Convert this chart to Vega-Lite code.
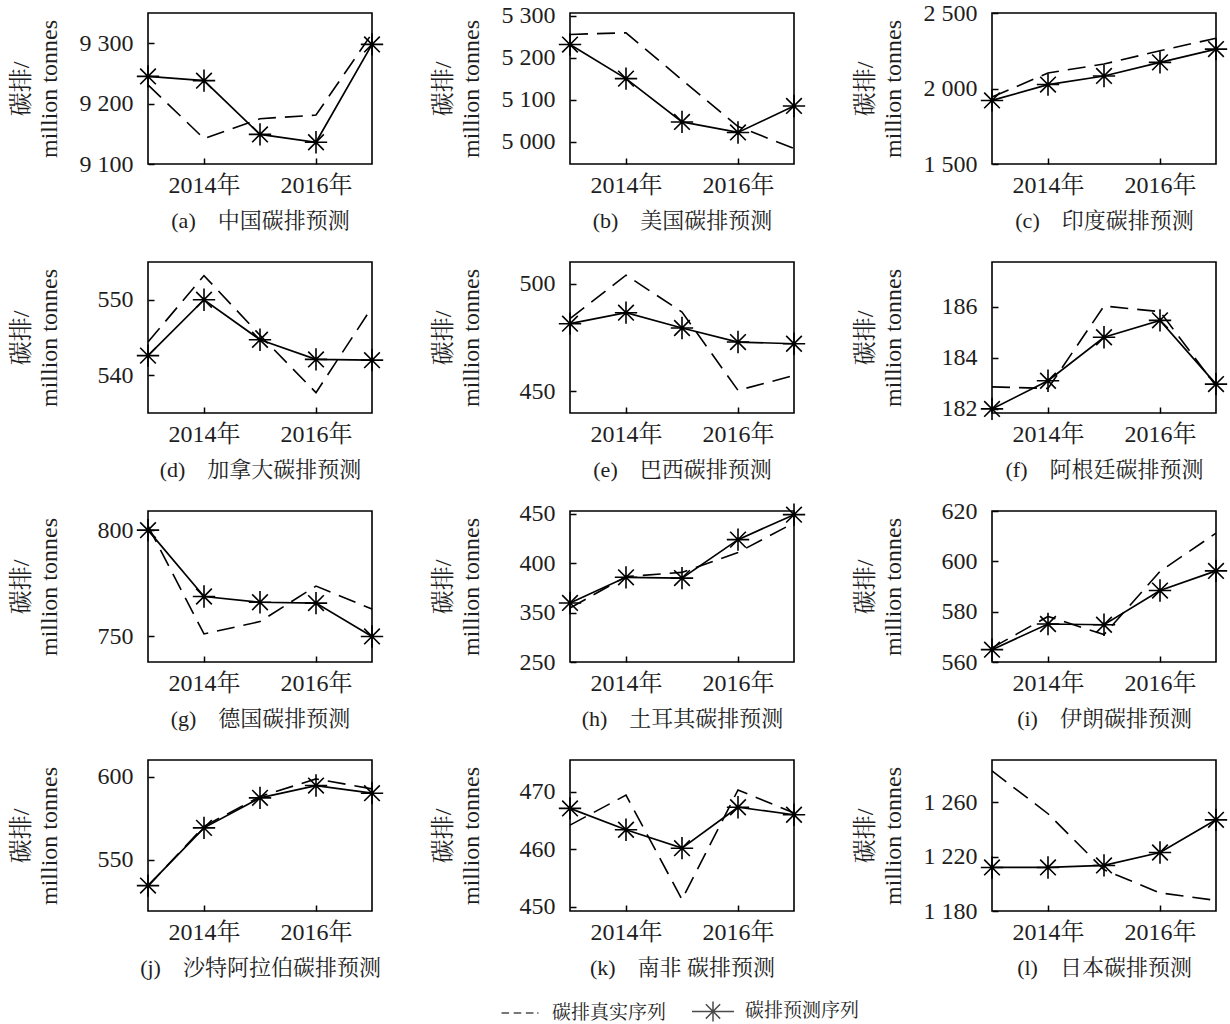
{
"$schema":"https://vega.github.io/schema/vega-lite/v6.json",
"padding":{"left":8,"top":0,"right":0,"bottom":0},
"data":{"values":[
{"c":"a","s":"r","x":2013,"v":9231},{"c":"a","s":"r","x":2014,"v":9142},{"c":"a","s":"r","x":2015,"v":9175},{"c":"a","s":"r","x":2016,"v":9181},{"c":"a","s":"r","x":2017,"v":9316},
{"c":"a","s":"p","x":2013,"v":9245},{"c":"a","s":"p","x":2014,"v":9238},{"c":"a","s":"p","x":2015,"v":9149},{"c":"a","s":"p","x":2016,"v":9136},{"c":"a","s":"p","x":2017,"v":9298},
{"c":"b","s":"r","x":2013,"v":5255},{"c":"b","s":"r","x":2014,"v":5259},{"c":"b","s":"r","x":2015,"v":5147},{"c":"b","s":"r","x":2016,"v":5036},{"c":"b","s":"r","x":2017,"v":4984},
{"c":"b","s":"p","x":2013,"v":5231},{"c":"b","s":"p","x":2014,"v":5150},{"c":"b","s":"p","x":2015,"v":5047},{"c":"b","s":"p","x":2016,"v":5022},{"c":"b","s":"p","x":2017,"v":5085},
{"c":"c","s":"r","x":2013,"v":1943},{"c":"c","s":"r","x":2014,"v":2103},{"c":"c","s":"r","x":2015,"v":2162},{"c":"c","s":"r","x":2016,"v":2250},{"c":"c","s":"r","x":2017,"v":2333},
{"c":"c","s":"p","x":2013,"v":1921},{"c":"c","s":"p","x":2014,"v":2026},{"c":"c","s":"p","x":2015,"v":2083},{"c":"c","s":"p","x":2016,"v":2173},{"c":"c","s":"p","x":2017,"v":2261},
{"c":"d","s":"r","x":2013,"v":544.4},{"c":"d","s":"r","x":2014,"v":553.2},{"c":"d","s":"r","x":2015,"v":545.3},{"c":"d","s":"r","x":2016,"v":537.7},{"c":"d","s":"r","x":2017,"v":549},
{"c":"d","s":"p","x":2013,"v":542.6},{"c":"d","s":"p","x":2014,"v":550},{"c":"d","s":"p","x":2015,"v":544.7},{"c":"d","s":"p","x":2016,"v":542.1},{"c":"d","s":"p","x":2017,"v":542.0},
{"c":"e","s":"r","x":2013,"v":483.7},{"c":"e","s":"r","x":2014,"v":503.9},{"c":"e","s":"r","x":2015,"v":486.8},{"c":"e","s":"r","x":2016,"v":450.5},{"c":"e","s":"r","x":2017,"v":457.4},
{"c":"e","s":"p","x":2013,"v":481.4},{"c":"e","s":"p","x":2014,"v":486.5},{"c":"e","s":"p","x":2015,"v":479.4},{"c":"e","s":"p","x":2016,"v":472.9},{"c":"e","s":"p","x":2017,"v":472.1},
{"c":"f","s":"r","x":2013,"v":182.86},{"c":"f","s":"r","x":2014,"v":182.8},{"c":"f","s":"r","x":2015,"v":186.02},{"c":"f","s":"r","x":2016,"v":185.8},{"c":"f","s":"r","x":2017,"v":182.9},
{"c":"f","s":"p","x":2013,"v":182.0},{"c":"f","s":"p","x":2014,"v":183.1},{"c":"f","s":"p","x":2015,"v":184.8},{"c":"f","s":"p","x":2016,"v":185.46},{"c":"f","s":"p","x":2017,"v":182.97},
{"c":"g","s":"r","x":2013,"v":802},{"c":"g","s":"r","x":2014,"v":751.2},{"c":"g","s":"r","x":2015,"v":757},{"c":"g","s":"r","x":2016,"v":773.7},{"c":"g","s":"r","x":2017,"v":762.9},
{"c":"g","s":"p","x":2013,"v":800},{"c":"g","s":"p","x":2014,"v":768.8},{"c":"g","s":"p","x":2015,"v":766.1},{"c":"g","s":"p","x":2016,"v":765.7},{"c":"g","s":"p","x":2017,"v":750},
{"c":"h","s":"r","x":2013,"v":354.7},{"c":"h","s":"r","x":2014,"v":386.5},{"c":"h","s":"r","x":2015,"v":390.8},{"c":"h","s":"r","x":2016,"v":411},{"c":"h","s":"r","x":2017,"v":441},
{"c":"h","s":"p","x":2013,"v":359.8},{"c":"h","s":"p","x":2014,"v":385.8},{"c":"h","s":"p","x":2015,"v":385},{"c":"h","s":"p","x":2016,"v":424},{"c":"h","s":"p","x":2017,"v":449.3},
{"c":"i","s":"r","x":2013,"v":565.6},{"c":"i","s":"r","x":2014,"v":578.1},{"c":"i","s":"r","x":2015,"v":570.9},{"c":"i","s":"r","x":2016,"v":596},{"c":"i","s":"r","x":2017,"v":611.2},
{"c":"i","s":"p","x":2013,"v":564.9},{"c":"i","s":"p","x":2014,"v":575.1},{"c":"i","s":"p","x":2015,"v":574.8},{"c":"i","s":"p","x":2016,"v":588.4},{"c":"i","s":"p","x":2017,"v":596.2},
{"c":"j","s":"r","x":2013,"v":534},{"c":"j","s":"r","x":2014,"v":570},{"c":"j","s":"r","x":2015,"v":588},{"c":"j","s":"r","x":2016,"v":598.6},{"c":"j","s":"r","x":2017,"v":592.6},
{"c":"j","s":"p","x":2013,"v":534.3},{"c":"j","s":"p","x":2014,"v":569.1},{"c":"j","s":"p","x":2015,"v":587.2},{"c":"j","s":"p","x":2016,"v":594.6},{"c":"j","s":"p","x":2017,"v":590},
{"c":"k","s":"r","x":2013,"v":464.2},{"c":"k","s":"r","x":2014,"v":469.4},{"c":"k","s":"r","x":2015,"v":451.3},{"c":"k","s":"r","x":2016,"v":470.3},{"c":"k","s":"r","x":2017,"v":466.3},
{"c":"k","s":"p","x":2013,"v":467.1},{"c":"k","s":"p","x":2014,"v":463.4},{"c":"k","s":"p","x":2015,"v":460.2},{"c":"k","s":"p","x":2016,"v":467.3},{"c":"k","s":"p","x":2017,"v":466},
{"c":"l","s":"r","x":2013,"v":1283},{"c":"l","s":"r","x":2014,"v":1251.5},{"c":"l","s":"r","x":2015,"v":1210.3},{"c":"l","s":"r","x":2016,"v":1193.3},{"c":"l","s":"r","x":2017,"v":1187.8},
{"c":"l","s":"p","x":2013,"v":1212},{"c":"l","s":"p","x":2014,"v":1212},{"c":"l","s":"p","x":2015,"v":1213.5},{"c":"l","s":"p","x":2016,"v":1223},{"c":"l","s":"p","x":2017,"v":1247}
]},
"columns":3,
"spacing":{"column":198,"row":98},
"bounds":"flush",
"resolve":{"scale":{"shape":"independent"}},
"concat":[
{"width":224,"height":151,"transform":[{"filter":"datum.c=='a'"}],
 "encoding":{"x":{"field":"x","type":"quantitative","scale":{"domain":[2013,2017]},"axis":{"values":[2014,2016],"labelExpr":"datum.value+'年'","title":"(a)\u3000中国碳排预测"}},
  "y":{"field":"v","type":"quantitative","scale":{"domain":[9100,9350],"nice":false,"zero":false},"axis":{"values":[9100,9200,9300],"labelExpr":"replace(format(datum.value,',d'),',',' ')","title":["碳排/","million tonnes"]}}},
 "layer":[
  {"transform":[{"filter":"datum.s=='r'"}],"mark":{"type":"line","color":"#000","strokeWidth":1.6,"strokeDash":[18,9]}},
  {"transform":[{"filter":"datum.s=='p'"}],"mark":{"type":"line","color":"#000","strokeWidth":1.7}},
  {"transform":[{"filter":"datum.s=='p'"}],"mark":{"type":"point","shape":"M-1,0H1M0,-1V1M-0.7,-0.7L0.7,0.7M-0.7,0.7L0.7,-0.7","size":500,"filled":false,"stroke":"#000","strokeWidth":1.6,"opacity":1}}
 ]},
{"width":224,"height":151,"transform":[{"filter":"datum.c=='b'"}],
 "encoding":{"x":{"field":"x","type":"quantitative","scale":{"domain":[2013,2017]},"axis":{"values":[2014,2016],"labelExpr":"datum.value+'年'","title":"(b)\u3000美国碳排预测"}},
  "y":{"field":"v","type":"quantitative","scale":{"domain":[4947,5306],"nice":false,"zero":false},"axis":{"values":[5000,5100,5200,5300],"labelExpr":"replace(format(datum.value,',d'),',',' ')","title":["碳排/","million tonnes"]}}},
 "layer":[
  {"transform":[{"filter":"datum.s=='r'"}],"mark":{"type":"line","color":"#000","strokeWidth":1.6,"strokeDash":[18,9]}},
  {"transform":[{"filter":"datum.s=='p'"}],"mark":{"type":"line","color":"#000","strokeWidth":1.7}},
  {"transform":[{"filter":"datum.s=='p'"}],"mark":{"type":"point","shape":"M-1,0H1M0,-1V1M-0.7,-0.7L0.7,0.7M-0.7,0.7L0.7,-0.7","size":500,"filled":false,"stroke":"#000","strokeWidth":1.6,"opacity":1}}
 ]},
{"width":224,"height":151,"transform":[{"filter":"datum.c=='c'"}],
 "encoding":{"x":{"field":"x","type":"quantitative","scale":{"domain":[2013,2017]},"axis":{"values":[2014,2016],"labelExpr":"datum.value+'年'","title":"(c)\u3000印度碳排预测"}},
  "y":{"field":"v","type":"quantitative","scale":{"domain":[1500,2500],"nice":false,"zero":false},"axis":{"values":[1500,2000,2500],"labelExpr":"replace(format(datum.value,',d'),',',' ')","title":["碳排/","million tonnes"]}}},
 "layer":[
  {"transform":[{"filter":"datum.s=='r'"}],"mark":{"type":"line","color":"#000","strokeWidth":1.6,"strokeDash":[18,9]}},
  {"transform":[{"filter":"datum.s=='p'"}],"mark":{"type":"line","color":"#000","strokeWidth":1.7}},
  {"transform":[{"filter":"datum.s=='p'"}],"mark":{"type":"point","shape":"M-1,0H1M0,-1V1M-0.7,-0.7L0.7,0.7M-0.7,0.7L0.7,-0.7","size":500,"filled":false,"stroke":"#000","strokeWidth":1.6,"opacity":1}}
 ]},
{"width":224,"height":151,"transform":[{"filter":"datum.c=='d'"}],
 "encoding":{"x":{"field":"x","type":"quantitative","scale":{"domain":[2013,2017]},"axis":{"values":[2014,2016],"labelExpr":"datum.value+'年'","title":"(d)\u3000加拿大碳排预测"}},
  "y":{"field":"v","type":"quantitative","scale":{"domain":[535,555],"nice":false,"zero":false},"axis":{"values":[540,550],"labelExpr":"replace(format(datum.value,',d'),',',' ')","title":["碳排/","million tonnes"]}}},
 "layer":[
  {"transform":[{"filter":"datum.s=='r'"}],"mark":{"type":"line","color":"#000","strokeWidth":1.6,"strokeDash":[18,9]}},
  {"transform":[{"filter":"datum.s=='p'"}],"mark":{"type":"line","color":"#000","strokeWidth":1.7}},
  {"transform":[{"filter":"datum.s=='p'"}],"mark":{"type":"point","shape":"M-1,0H1M0,-1V1M-0.7,-0.7L0.7,0.7M-0.7,0.7L0.7,-0.7","size":500,"filled":false,"stroke":"#000","strokeWidth":1.6,"opacity":1}}
 ]},
{"width":224,"height":151,"transform":[{"filter":"datum.c=='e'"}],
 "encoding":{"x":{"field":"x","type":"quantitative","scale":{"domain":[2013,2017]},"axis":{"values":[2014,2016],"labelExpr":"datum.value+'年'","title":"(e)\u3000巴西碳排预测"}},
  "y":{"field":"v","type":"quantitative","scale":{"domain":[440,510],"nice":false,"zero":false},"axis":{"values":[450,500],"labelExpr":"replace(format(datum.value,',d'),',',' ')","title":["碳排/","million tonnes"]}}},
 "layer":[
  {"transform":[{"filter":"datum.s=='r'"}],"mark":{"type":"line","color":"#000","strokeWidth":1.6,"strokeDash":[18,9]}},
  {"transform":[{"filter":"datum.s=='p'"}],"mark":{"type":"line","color":"#000","strokeWidth":1.7}},
  {"transform":[{"filter":"datum.s=='p'"}],"mark":{"type":"point","shape":"M-1,0H1M0,-1V1M-0.7,-0.7L0.7,0.7M-0.7,0.7L0.7,-0.7","size":500,"filled":false,"stroke":"#000","strokeWidth":1.6,"opacity":1}}
 ]},
{"width":224,"height":151,"transform":[{"filter":"datum.c=='f'"}],
 "encoding":{"x":{"field":"x","type":"quantitative","scale":{"domain":[2013,2017]},"axis":{"values":[2014,2016],"labelExpr":"datum.value+'年'","title":"(f)\u3000阿根廷碳排预测"}},
  "y":{"field":"v","type":"quantitative","scale":{"domain":[181.84,187.74],"nice":false,"zero":false},"axis":{"values":[182,184,186],"labelExpr":"replace(format(datum.value,',d'),',',' ')","title":["碳排/","million tonnes"]}}},
 "layer":[
  {"transform":[{"filter":"datum.s=='r'"}],"mark":{"type":"line","color":"#000","strokeWidth":1.6,"strokeDash":[18,9]}},
  {"transform":[{"filter":"datum.s=='p'"}],"mark":{"type":"line","color":"#000","strokeWidth":1.7}},
  {"transform":[{"filter":"datum.s=='p'"}],"mark":{"type":"point","shape":"M-1,0H1M0,-1V1M-0.7,-0.7L0.7,0.7M-0.7,0.7L0.7,-0.7","size":500,"filled":false,"stroke":"#000","strokeWidth":1.6,"opacity":1}}
 ]},
{"width":224,"height":151,"transform":[{"filter":"datum.c=='g'"}],
 "encoding":{"x":{"field":"x","type":"quantitative","scale":{"domain":[2013,2017]},"axis":{"values":[2014,2016],"labelExpr":"datum.value+'年'","title":"(g)\u3000德国碳排预测"}},
  "y":{"field":"v","type":"quantitative","scale":{"domain":[738,809],"nice":false,"zero":false},"axis":{"values":[750,800],"labelExpr":"replace(format(datum.value,',d'),',',' ')","title":["碳排/","million tonnes"]}}},
 "layer":[
  {"transform":[{"filter":"datum.s=='r'"}],"mark":{"type":"line","color":"#000","strokeWidth":1.6,"strokeDash":[18,9]}},
  {"transform":[{"filter":"datum.s=='p'"}],"mark":{"type":"line","color":"#000","strokeWidth":1.7}},
  {"transform":[{"filter":"datum.s=='p'"}],"mark":{"type":"point","shape":"M-1,0H1M0,-1V1M-0.7,-0.7L0.7,0.7M-0.7,0.7L0.7,-0.7","size":500,"filled":false,"stroke":"#000","strokeWidth":1.6,"opacity":1}}
 ]},
{"width":224,"height":151,"transform":[{"filter":"datum.c=='h'"}],
 "encoding":{"x":{"field":"x","type":"quantitative","scale":{"domain":[2013,2017]},"axis":{"values":[2014,2016],"labelExpr":"datum.value+'年'","title":"(h)\u3000土耳其碳排预测"}},
  "y":{"field":"v","type":"quantitative","scale":{"domain":[300,453],"nice":false,"zero":false},"axis":{"values":[300,350,400,450],"labelExpr":"datum.value==300?'250':format(datum.value,'d')","title":["碳排/","million tonnes"]}}},
 "layer":[
  {"transform":[{"filter":"datum.s=='r'"}],"mark":{"type":"line","color":"#000","strokeWidth":1.6,"strokeDash":[18,9]}},
  {"transform":[{"filter":"datum.s=='p'"}],"mark":{"type":"line","color":"#000","strokeWidth":1.7}},
  {"transform":[{"filter":"datum.s=='p'"}],"mark":{"type":"point","shape":"M-1,0H1M0,-1V1M-0.7,-0.7L0.7,0.7M-0.7,0.7L0.7,-0.7","size":500,"filled":false,"stroke":"#000","strokeWidth":1.6,"opacity":1}}
 ]},
{"width":224,"height":151,"transform":[{"filter":"datum.c=='i'"}],
 "encoding":{"x":{"field":"x","type":"quantitative","scale":{"domain":[2013,2017]},"axis":{"values":[2014,2016],"labelExpr":"datum.value+'年'","title":"(i)\u3000伊朗碳排预测"}},
  "y":{"field":"v","type":"quantitative","scale":{"domain":[560,620],"nice":false,"zero":false},"axis":{"values":[560,580,600,620],"labelExpr":"replace(format(datum.value,',d'),',',' ')","title":["碳排/","million tonnes"]}}},
 "layer":[
  {"transform":[{"filter":"datum.s=='r'"}],"mark":{"type":"line","color":"#000","strokeWidth":1.6,"strokeDash":[18,9]}},
  {"transform":[{"filter":"datum.s=='p'"}],"mark":{"type":"line","color":"#000","strokeWidth":1.7}},
  {"transform":[{"filter":"datum.s=='p'"}],"mark":{"type":"point","shape":"M-1,0H1M0,-1V1M-0.7,-0.7L0.7,0.7M-0.7,0.7L0.7,-0.7","size":500,"filled":false,"stroke":"#000","strokeWidth":1.6,"opacity":1}}
 ]},
{"width":224,"height":151,"transform":[{"filter":"datum.c=='j'"}],
 "encoding":{"x":{"field":"x","type":"quantitative","scale":{"domain":[2013,2017]},"axis":{"values":[2014,2016],"labelExpr":"datum.value+'年'","title":"(j)\u3000沙特阿拉伯碳排预测"}},
  "y":{"field":"v","type":"quantitative","scale":{"domain":[519,610],"nice":false,"zero":false},"axis":{"values":[550,600],"labelExpr":"replace(format(datum.value,',d'),',',' ')","title":["碳排/","million tonnes"]}}},
 "layer":[
  {"transform":[{"filter":"datum.s=='r'"}],"mark":{"type":"line","color":"#000","strokeWidth":1.6,"strokeDash":[18,9]}},
  {"transform":[{"filter":"datum.s=='p'"}],"mark":{"type":"line","color":"#000","strokeWidth":1.7}},
  {"transform":[{"filter":"datum.s=='p'"}],"mark":{"type":"point","shape":"M-1,0H1M0,-1V1M-0.7,-0.7L0.7,0.7M-0.7,0.7L0.7,-0.7","size":500,"filled":false,"stroke":"#000","strokeWidth":1.6,"opacity":1}}
 ]},
{"width":224,"height":151,"transform":[{"filter":"datum.c=='k'"}],
 "encoding":{"x":{"field":"x","type":"quantitative","scale":{"domain":[2013,2017]},"axis":{"values":[2014,2016],"labelExpr":"datum.value+'年'","title":"(k)\u3000南非 碳排预测"}},
  "y":{"field":"v","type":"quantitative","scale":{"domain":[449.3,475.5],"nice":false,"zero":false},"axis":{"values":[450,460,470],"labelExpr":"replace(format(datum.value,',d'),',',' ')","title":["碳排/","million tonnes"]}}},
 "layer":[
  {"transform":[{"filter":"datum.s=='r'"}],"mark":{"type":"line","color":"#000","strokeWidth":1.6,"strokeDash":[18,9]}},
  {"transform":[{"filter":"datum.s=='p'"}],"mark":{"type":"line","color":"#000","strokeWidth":1.7}},
  {"transform":[{"filter":"datum.s=='p'"}],"mark":{"type":"point","shape":"M-1,0H1M0,-1V1M-0.7,-0.7L0.7,0.7M-0.7,0.7L0.7,-0.7","size":500,"filled":false,"stroke":"#000","strokeWidth":1.6,"opacity":1}},
  {"transform":[{"filter":"false"}],"mark":{"type":"point","filled":false,"stroke":"#000"},
   "encoding":{"shape":{"field":"s","type":"nominal","scale":{"domain":["碳排真实序列","碳排预测序列"],"range":["M-0.88,0H-0.52M-0.3,0H0.06M0.28,0H0.64M0.82,0H0.88","M-1,0H1M0,-0.48V0.48M-0.34,-0.34L0.34,0.34M-0.34,0.34L0.34,-0.34"]},
    "legend":{"orient":"none","legendX":-72,"legendY":229,"direction":"horizontal","title":null,"symbolSize":1764,"symbolStrokeWidth":1.5,"symbolStrokeColor":"#000","symbolFillColor":"transparent","labelFontSize":19,"labelFont":"Liberation Serif, Noto Serif CJK SC, Noto Sans CJK SC","labelColor":"#1e1e1e","labelOffset":10,"columnPadding":22}}}}
 ]},
{"width":224,"height":151,"transform":[{"filter":"datum.c=='l'"}],
 "encoding":{"x":{"field":"x","type":"quantitative","scale":{"domain":[2013,2017]},"axis":{"values":[2014,2016],"labelExpr":"datum.value+'年'","title":"(l)\u3000日本碳排预测"}},
  "y":{"field":"v","type":"quantitative","scale":{"domain":[1180,1291],"nice":false,"zero":false},"axis":{"values":[1180,1220,1260],"labelExpr":"replace(format(datum.value,',d'),',',' ')","title":["碳排/","million tonnes"]}}},
 "layer":[
  {"transform":[{"filter":"datum.s=='r'"}],"mark":{"type":"line","color":"#000","strokeWidth":1.6,"strokeDash":[18,9]}},
  {"transform":[{"filter":"datum.s=='p'"}],"mark":{"type":"line","color":"#000","strokeWidth":1.7}},
  {"transform":[{"filter":"datum.s=='p'"}],"mark":{"type":"point","shape":"M-1,0H1M0,-1V1M-0.7,-0.7L0.7,0.7M-0.7,0.7L0.7,-0.7","size":500,"filled":false,"stroke":"#000","strokeWidth":1.6,"opacity":1}}
 ]}
],
"config":{
 "view":{"stroke":"#000","strokeWidth":1.6},
 "axis":{"labelFont":"Liberation Serif, Noto Serif CJK SC, Noto Sans CJK SC","labelFontSize":24,"labelColor":"#1e1e1e","tickColor":"#000","tickSize":-6,"tickWidth":1.5,"domain":false,"grid":false,"titleFont":"Liberation Serif, Noto Serif CJK SC, Noto Sans CJK SC","titleFontWeight":"normal","titleColor":"#1e1e1e"},
 "axisY":{"labelPadding":21,"titleX":-115,"titleLineHeight":28,"titleFontSize":24},
 "axisX":{"labelPadding":15,"titleY":46,"titleBaseline":"top","titleFontSize":22}
}
}
